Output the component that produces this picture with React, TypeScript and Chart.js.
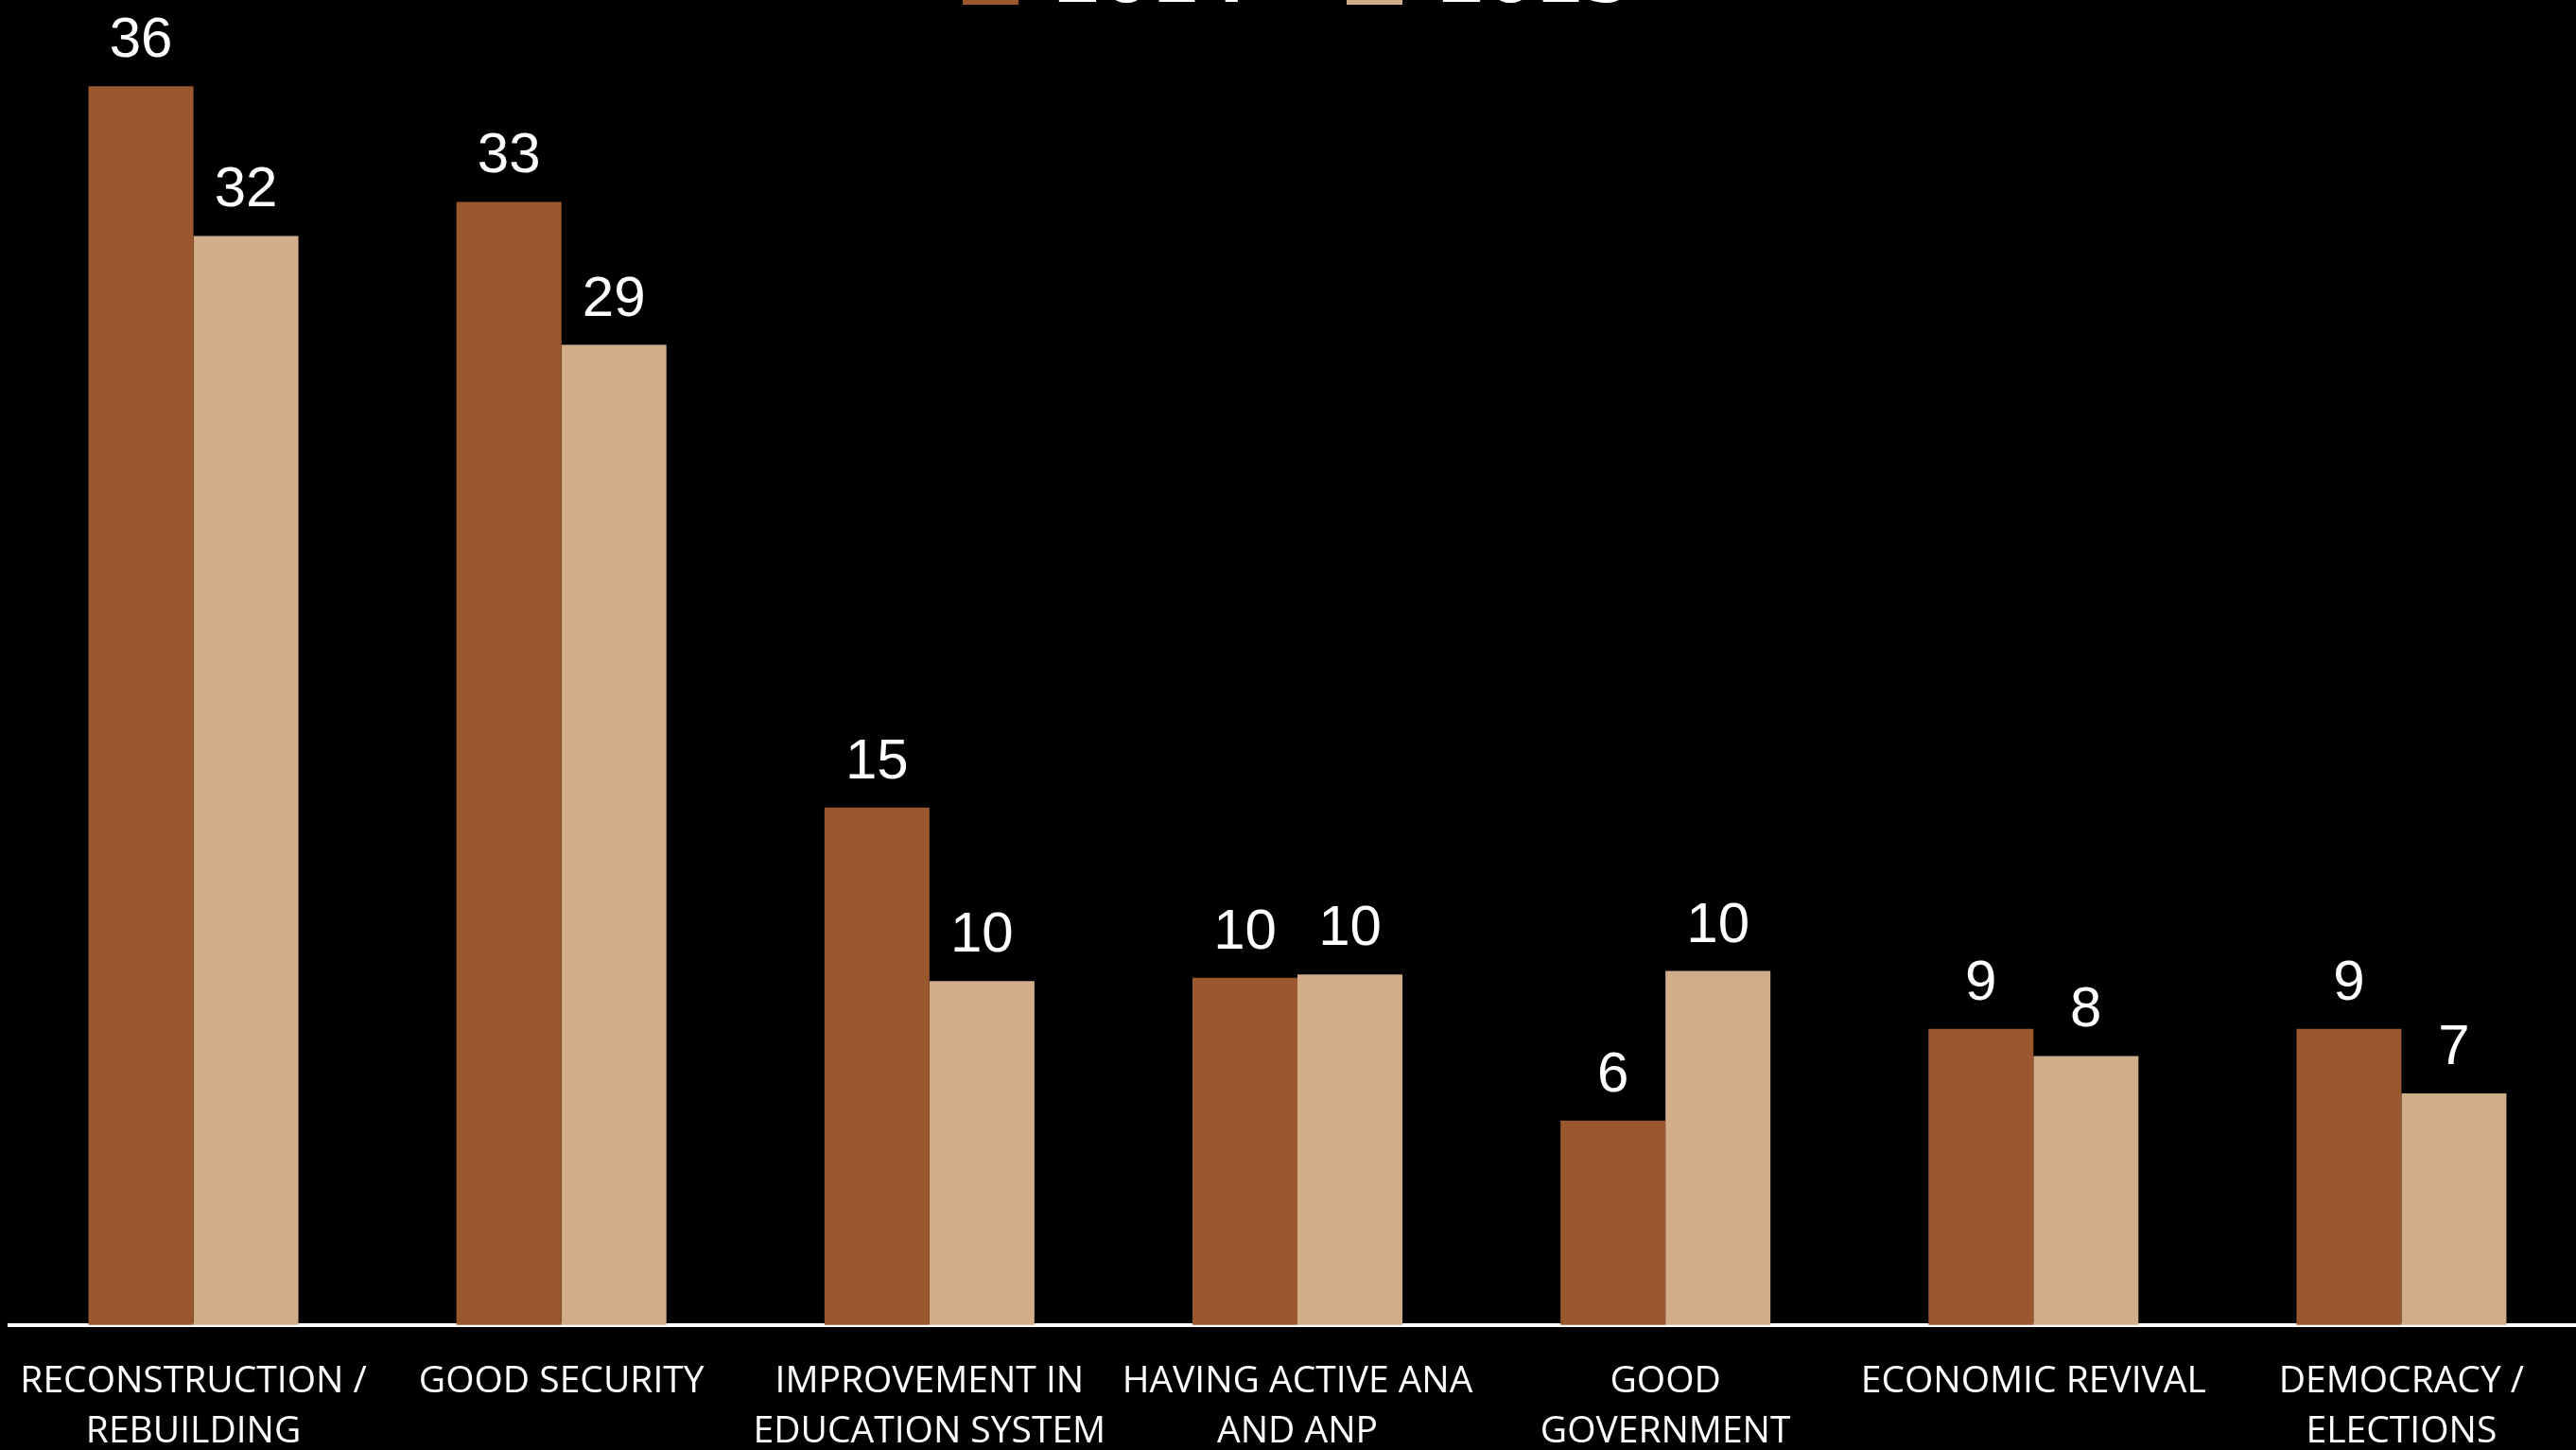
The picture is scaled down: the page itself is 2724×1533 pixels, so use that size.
import React, { useEffect, useRef } from "react";
import { Chart, registerables } from "chart.js";

Chart.register(...registerables);

const categories: string[][] = [
  ["RECONSTRUCTION /", "REBUILDING"],
  ["GOOD SECURITY"],
  ["IMPROVEMENT IN", "EDUCATION SYSTEM"],
  ["HAVING ACTIVE ANA", "AND ANP"],
  ["GOOD", "GOVERNMENT"],
  ["ECONOMIC REVIVAL"],
  ["DEMOCRACY /", "ELECTIONS"],
];
const seriesNames = ["2014", "2015"];
const values2014 = [36.4, 33.0, 15.2, 10.2, 6.0, 8.7, 8.7];
const values2015 = [32.0, 28.8, 10.1, 10.3, 10.4, 7.9, 6.8];
const colors = ["#9B572D", "#D2AD89"];

const CANVAS_W = 2734;
const CANVAS_H = 1732;
const CANVAS_TOP = -158;

const valueLabels = {
  id: "valueLabels",
  afterDatasetsDraw(chart: any) {
    const ctx = chart.ctx;
    ctx.save();
    ctx.fillStyle = "#ffffff";
    ctx.font = "60px 'Liberation Sans', Arial, sans-serif";
    ctx.textAlign = "center";
    ctx.textBaseline = "alphabetic";
    chart.data.datasets.forEach((ds: any, di: number) => {
      const meta = chart.getDatasetMeta(di);
      meta.data.forEach((el: any, i: number) => {
        const v = ds.data[i] as number;
        ctx.fillText(String(Math.round(v)), el.x, el.y - 31);
      });
    });
    ctx.restore();
  },
};

export default function App() {
  const ref = useRef<HTMLCanvasElement | null>(null);
  useEffect(() => {
    if (!ref.current) return;
    const chart = new Chart(ref.current, {
      type: "bar",
      data: {
        labels: categories,
        datasets: [
          {
            label: seriesNames[0],
            data: values2014,
            backgroundColor: colors[0],
            borderWidth: 0,
            clip: false as any,
          },
          {
            label: seriesNames[1],
            data: values2015,
            backgroundColor: colors[1],
            borderWidth: 0,
            clip: false as any,
          },
        ],
      },
      options: {
        responsive: false,
        animation: false,
        devicePixelRatio: 1,
        events: [],
        layout: { padding: { left: 10, right: 0, top: 0, bottom: 0 } },
        datasets: {
          bar: { barPercentage: 1, categoryPercentage: 0.5705 },
        },
        scales: {
          x: {
            grid: { display: false, drawTicks: false },
            border: { display: true, color: "#ffffff", width: 4 },
            ticks: {
              color: "#ffffff",
              autoSkip: false,
              maxRotation: 0,
              minRotation: 0,
              padding: 34,
              font: { family: "'Open Sans', sans-serif", size: 39, lineHeight: 1.35 },
            },
            afterFit: (scale: any) => {
              scale.paddingLeft = 0;
              scale.paddingRight = 0;
            },
          },
          y: {
            display: false,
            min: 0,
            max: 38.1,
          },
        },
        plugins: {
          legend: {
            display: true,
            position: "top",
            labels: {
              color: "#ffffff",
              boxWidth: 59,
              boxHeight: 44,
              padding: 104,
              font: { family: "'DejaVu Sans', sans-serif", size: 74, weight: "bold" },
            },
          },
          tooltip: { enabled: false },
        },
      },
      plugins: [valueLabels],
    });
    return () => chart.destroy();
  }, []);

  return (
    <div
      style={{
        position: "fixed",
        left: 0,
        top: 0,
        width: 2724,
        height: 1533,
        overflow: "hidden",
        background: "#000000",
      }}
    >
      <canvas
        ref={ref}
        width={CANVAS_W}
        height={CANVAS_H}
        style={{
          position: "absolute",
          left: 0,
          top: CANVAS_TOP,
          width: CANVAS_W,
          height: CANVAS_H,
        }}
      />
    </div>
  );
}
